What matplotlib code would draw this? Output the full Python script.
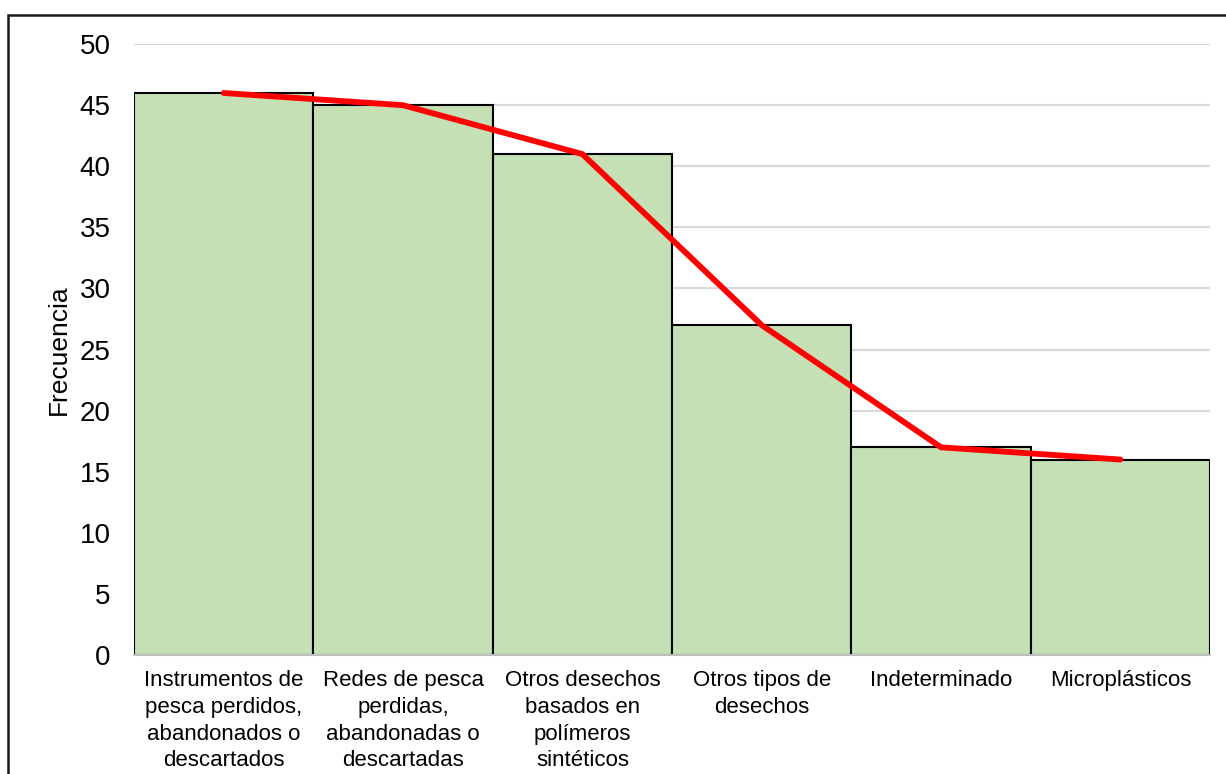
import matplotlib

matplotlib.use("Agg")
import matplotlib.pyplot as plt  # noqa: E402
from matplotlib.patches import Rectangle  # noqa: E402

categories = [
    "Instrumentos de\npesca perdidos,\nabandonados o\ndescartados",
    "Redes de pesca\nperdidas,\nabandonadas o\ndescartadas",
    "Otros desechos\nbasados en\npolímeros\nsintéticos",
    "Otros tipos de\ndesechos",
    "Indeterminado",
    "Microplásticos",
]
frecuencia = [46, 45, 41, 27, 17, 16]
y_ticks = list(range(0, 51, 5))

plt.rcParams["font.family"] = ["Liberation Sans", "DejaVu Sans"]

fig = plt.figure(figsize=(12.26, 7.74), dpi=100)
ax = fig.add_axes([0.1093, 0.1537, 0.8777, 0.7893])

x = range(len(categories))
ax.bar(x, frecuencia, width=1.0, color="#C5E0B4", edgecolor="black", linewidth=1.5, zorder=2)
ax.plot(x, frecuencia, color="#FF0000", linewidth=4.2, solid_capstyle="round", zorder=3)

ax.set_xlim(-0.5, len(categories) - 0.5)
ax.set_ylim(0, 50)
ax.set_yticks(y_ticks)
ax.set_xticks(list(x))
ax.set_xticklabels(categories, fontsize=16, linespacing=1.35)
ax.tick_params(axis="y", labelsize=20, length=0, pad=17)
ax.tick_params(axis="x", length=0, pad=11)
ax.set_ylabel("Frecuencia", fontsize=19, labelpad=6)

ax.grid(axis="y", color="#D9D9D9", linewidth=1.5, zorder=0)
ax.set_axisbelow(True)
for side in ("top", "right", "left"):
    ax.spines[side].set_visible(False)
ax.spines["bottom"].set_color("#BFBFBF")
ax.spines["bottom"].set_linewidth(1.5)

# outer chart frame, open to the right and bottom
top = 1 - 15 / 774
fig.patches.append(
    Rectangle((8 / 1226, -0.05), 1.2, top + 0.05,
              transform=fig.transFigure, fill=False, edgecolor="#1a1a1a", linewidth=1.8)
)

fig.savefig("out.png", dpi=100)
